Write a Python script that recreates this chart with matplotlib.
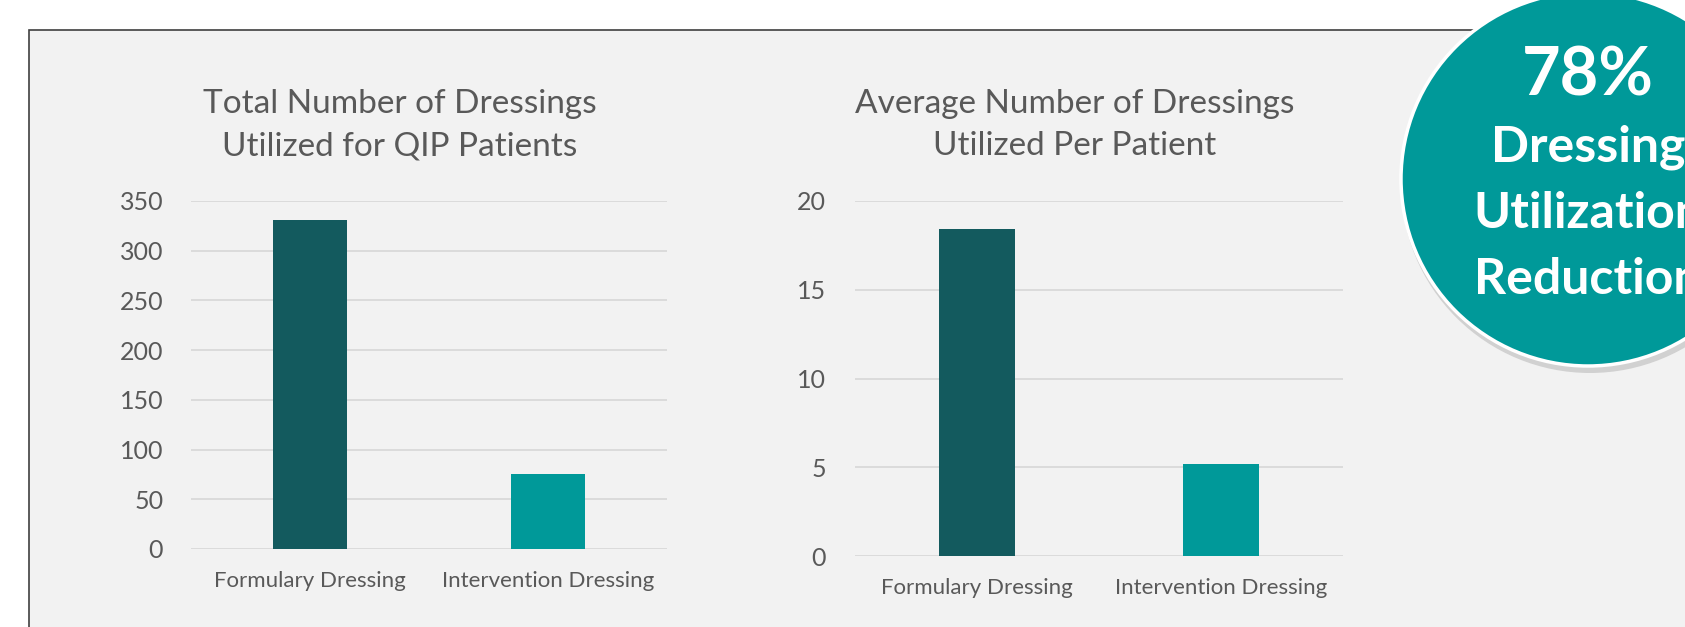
import numpy as np
import matplotlib.pyplot as plt
from matplotlib.patches import Rectangle, Circle

plt.rcParams['font.family'] = ['Lato', 'DejaVu Sans']

# data
categories = ['Formulary Dressing', 'Intervention Dressing']
total_dressings = [331, 75]
avg_dressings = [18.4, 5.2]
title_left = 'Total Number of Dressings\nUtilized for QIP Patients'
title_right = 'Average Number of Dressings\nUtilized Per Patient'
badge_pct = '78%'
badge_lines = ['Dressing', 'Utilization', 'Reduction']

dark_teal = '#135A5E'
teal = '#009999'
grey_txt = '#595959'
W, H = 1685, 627

fig = plt.figure(figsize=(W / 100, H / 100), dpi=100)
fig.patch.set_facecolor('white')

# grey panel with dark border on top/left
fig.patches.append(Rectangle((29 / W, -0.1), 1.2, 1 - 30 / H + 0.1, transform=fig.transFigure,
                             facecolor='#F2F2F2', edgecolor='#404040', linewidth=1.2, zorder=-5))


def fx(px):
    return px / W


def fy(py):
    return 1 - py / H


def bar_axes(x0, x1, ytop, ybot, vals, ymax, step, tpad):
    ax = fig.add_axes([fx(x0), fy(ybot), fx(x1 - x0), (ybot - ytop) / H])
    ax.set_facecolor('none')
    ax.bar(np.arange(len(vals)), vals, width=0.315, color=[dark_teal, teal], zorder=3)
    ax.set_xlim(-0.5, len(vals) - 0.5)
    ax.set_ylim(0, ymax)
    ax.set_yticks(np.arange(0, ymax + step / 2, step))
    ax.grid(axis='y', color='#D9D9D9', linewidth=1.3, zorder=0)
    for s in ax.spines.values():
        s.set_visible(False)
    ax.set_xticks(np.arange(len(vals)))
    ax.set_xticklabels(categories)
    ax.tick_params(axis='y', length=0, pad=tpad, labelsize=18, labelcolor=grey_txt)
    ax.tick_params(axis='x', length=0, pad=16, labelsize=16, labelcolor=grey_txt)
    return ax


bar_axes(191, 667, 201, 549, total_dressings, 350, 50, 20)
bar_axes(855, 1343, 201, 556, avg_dressings, 20, 5, 21)

fig.text(fx(400), fy(125), title_left, ha='center', va='center', fontsize=24,
         color=grey_txt, linespacing=1.53)
fig.text(fx(1075), fy(125), title_right, ha='center', va='center', fontsize=24,
         color=grey_txt, linespacing=1.53)

# badge circle
cx, cy, r = 1588, 179, 187
ax_c = fig.add_axes([0, 0, 1, 1])
ax_c.set_xlim(0, W)
ax_c.set_ylim(H, 0)
ax_c.axis('off')
ax_c.add_patch(Circle((cx + 2, cy + 5), r + 2, facecolor='#BBBBBB', edgecolor='none', alpha=0.6))
ax_c.add_patch(Circle((cx, cy), r, facecolor=teal, edgecolor='white', linewidth=2.5))
ax_c.text(cx, 95, badge_pct, ha='center', va='baseline', fontsize=48, fontweight='bold', color='white')
for i, line in enumerate(badge_lines):
    ax_c.text(cx, 162 + 66 * i, line, ha='center', va='baseline', fontsize=36,
              fontweight='bold', color='white')

fig.savefig('out.png', dpi=100)
